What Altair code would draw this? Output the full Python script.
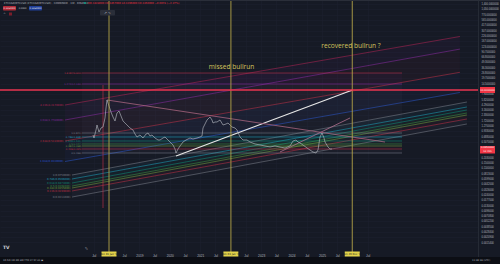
import altair as alt
import pandas as pd

BG = "#161a25"
TXT = "#b2b5be"
GRID = "#1c202d"

# ---------------- data ----------------
price_dates = [
    "2017-06-23", "2017-07-05", "2017-07-29", "2017-08-10", "2017-09-03", "2017-09-27", "2017-10-21",
    "2017-11-14", "2017-11-26", "2017-12-08", "2017-12-20",
    "2018-01-01", "2018-01-25", "2018-02-18", "2018-03-14", "2018-04-07", "2018-05-01", "2018-05-25",
    "2018-06-18", "2018-07-12", "2018-08-05", "2018-09-10", "2018-10-16", "2018-11-09", "2018-12-03",
    "2019-01-08", "2019-02-13", "2019-03-22", "2019-04-14", "2019-05-08", "2019-06-01", "2019-07-07",
    "2019-08-12", "2019-09-05", "2019-10-11", "2019-11-04", "2019-12-10",
    "2020-01-03", "2020-02-08", "2020-03-03", "2020-03-15", "2020-04-08", "2020-05-02", "2020-06-07",
    "2020-07-13", "2020-08-30", "2020-10-05", "2020-11-22", "2020-12-28",
    "2021-01-21", "2021-02-02", "2021-02-26", "2021-03-22", "2021-04-27", "2021-05-21", "2021-06-02",
    "2021-06-26", "2021-07-20", "2021-08-25", "2021-09-30", "2021-11-05", "2021-11-29",
    "2022-01-16", "2022-02-21", "2022-03-17", "2022-04-22", "2022-05-28", "2022-07-15", "2022-08-20",
    "2022-10-19", "2022-12-18",
    "2023-02-16", "2023-04-17", "2023-06-16", "2023-08-15", "2023-10-14", "2023-12-13",
    "2024-01-18", "2024-02-23", "2024-03-18", "2024-04-11", "2024-05-17", "2024-07-04", "2024-08-09",
    "2024-09-14", "2024-10-20", "2024-11-13", "2024-12-07", "2024-12-31",
    "2025-01-24", "2025-02-05", "2025-03-13", "2025-04-06", "2025-04-30",
]
price_values = [
    0.750, 0.631, 1.0, 1.334, 0.891, 1.122, 1.189, 1.995, 3.548, 5.623, 4.732,
    3.981, 2.818, 2.113, 1.679, 2.661, 2.985, 2.239, 1.679, 1.496, 1.334, 1.122, 1.0, 0.794, 0.668,
    0.750, 0.631, 0.794, 0.841, 0.708, 0.750, 0.631, 0.562, 0.562, 0.631, 0.668, 0.562,
    0.501, 0.422, 0.335, 0.266, 0.335, 0.398, 0.501, 0.562, 0.631, 0.596, 0.631, 0.668,
    0.708, 1.122, 1.413, 1.778, 2.113, 1.778, 1.496, 1.585, 1.585, 1.778, 1.334, 1.413, 1.496,
    1.189, 1.122, 1.0, 0.668, 0.562, 0.562, 0.501, 0.447, 0.422,
    0.398, 0.376, 0.398, 0.376, 0.355, 0.398,
    0.531, 0.562, 0.501, 0.473, 0.422, 0.355, 0.316, 0.282, 0.266, 0.316, 0.668, 0.841,
    0.631, 0.501, 0.376, 0.335, 0.335,
]

# sloped fib-channel levels (upper group)
upper_levels = ["4.236", "3.618", "2.618", "1.618"]
upper_colors = ["#c8255a", "#9a2eb5", "#d8344c", "#2f5fe0"]
upper_dates = ["2016-07-22", "2029-07-13"]
upper_start_price = [4.217, 1.778, 0.531, 0.163]
upper_end_price = [217.5, 105.3, 27.7, 8.66]

# sloped fib-channel levels (lower group)
lower_levels = ["1", "0.786", "0.618", "0.5", "0.382", "0.236", "0"]
lower_colors = ["#8a8d97", "#1fb5d0", "#0f9d86", "#43a047", "#7cb342", "#d8344c", "#8a8d97"]
lower_dates = ["2016-10-14", "2029-10-05"]
lower_start_price = [0.0750, 0.0596, 0.0473, 0.0398, 0.0355, 0.0299, 0.0211]
lower_end_price = [5.01, 3.758, 3.162, 2.661, 2.371, 1.884, 1.413]

# horizontal fib retracement box
box_levels = ["1.618", "1.272", "1", "0.786", "0.618", "0.5", "0.382", "0.236", "0"]
box_colors = ["#d8344c", "#9a2eb5", "#8a8d97", "#1fb5d0", "#0f9d86", "#43a047", "#7cb342", "#d8344c", "#8a8d97"]
box_dates = ["2017-02-10", "2027-08-18"]
box_prices = [26.6, 14.13, 0.841, 0.668, 0.531, 0.447, 0.398, 0.335, 0.266]

red_level = 10.0
white_dates = ["2020-03-15", "2026-01-01"]
white_prices = [0.224, 10.0]
mauve_dates = ["2017-12-08", "2027-01-26"]
mauve_prices = [5.623, 0.501]
pink_dates = ["2023-08-15", "2025-12-02"]
pink_prices = [0.282, 1.995]
red_vline_date = "2017-10-21"
red_vline_prices = [13.3, 0.0112]

cycle_dates = ["2018-01-01", "2022-01-03", "2025-12-29"]
cycle_labels = ["Mon 01 Jan '18", "Mon 03 Jan '22", "Mon 29 Dec '25"]
cycle_box_left = ["2017-10-03", "2021-10-05", "2025-09-30"]
cycle_box_right = ["2018-04-01", "2022-04-02", "2026-03-29"]

note_texts = ["missed bullrun", "recovered bullrun ?"]
note_dates = ["2022-01-10", "2025-12-14"]
note_prices = [38.2, 128.1]

last_price = 0.335
last_box = [0.398, 0.2585]
red_box = [11.885, 8.414]

price_ticks = [1400, 1050, 770, 565, 417, 307, 226, 167, 123, 90.7, 66.8, 49.3, 36.3, 26.8, 19.7,
               14.5, 7.90, 5.82, 4.29, 3.16, 2.33, 1.72, 1.27, 0.933, 0.688, 0.507,
               0.203, 0.150, 0.110, 0.0813, 0.0599, 0.0442, 0.0326, 0.0240, 0.0177, 0.0130,
               0.00960, 0.00708, 0.00522, 0.00385, 0.00284, 0.00209, 0.00154]
time_ticks = ["2017-07-01", "2018-07-01", "2019-01-01", "2019-07-01", "2020-01-01",
              "2020-07-01", "2021-01-01", "2021-07-01", "2022-07-01", "2023-01-01",
              "2023-07-01", "2024-01-01", "2024-07-01", "2025-01-01", "2025-07-01",
              "2026-07-01"]
x_domain = ["2014-06-03", "2030-02-15"]
y_domain = [0.000891, 1778]


def dt(s):
    y, m, d = (int(v) for v in s.split("-"))
    return alt.DateTime(year=y, month=m, date=d, utc=True)


x_scale = alt.Scale(type="utc", domain=[dt(s) for s in x_domain])
y_scale = alt.Scale(type="log", domain=y_domain, nice=False)
x_axis = alt.Axis(values=[dt(s) for s in time_ticks], title=None,
                  labelExpr="utcmonth(datum.value) == 6 ? 'Jul' : '' + utcyear(datum.value)",
                  labelFontSize=3.2, labelColor=TXT, labelPadding=1.5, ticks=False, domain=False,
                  grid=True, gridColor=GRID, gridWidth=0.6, labelOverlap=False, labelFlush=False)
y_axis = alt.Axis(orient="right", values=price_ticks, format=",.7f", title=None, labelFontSize=2.6,
                  labelColor=TXT, labelPadding=3, ticks=False, domain=False, grid=True,
                  gridColor=GRID, gridWidth=0.6, labelOverlap=False, labelFlush=False)


def X(f="date"):
    return alt.X(f"{f}:T", scale=x_scale, axis=x_axis)


def Y(f="price"):
    return alt.Y(f"{f}:Q", scale=y_scale, axis=y_axis)


# ---------------- tables ----------------
line_rows, band_rows, label_rows = [], [], []


def add_group(levels, colors, dates, p0, p1, gid, digits, dx):
    for i, (lv, c) in enumerate(zip(levels, colors)):
        line_rows.append({"id": f"{gid}{i}", "date": dates[0], "price": p0[i], "color": c})
        line_rows.append({"id": f"{gid}{i}", "date": dates[1], "price": p1[i], "color": c})
        label_rows.append({"date": dates[0], "price": p0[i], "color": c, "dx": dx,
                           "text": f"{lv}({p0[i]:.{digits}f})"})
        if i + 1 < len(levels):
            band_rows.append({"band": f"{gid}{i}", "date": dates[0], "top": p0[i], "bot": p0[i + 1], "color": colors[i + 1]})
            band_rows.append({"band": f"{gid}{i}", "date": dates[1], "top": p1[i], "bot": p1[i + 1], "color": colors[i + 1]})


add_group(upper_levels, upper_colors, upper_dates, upper_start_price, upper_end_price, "u", 7, -1.5)
add_group(lower_levels, lower_colors, lower_dates, lower_start_price, lower_end_price, "l", 7, -1.5)
add_group(box_levels, box_colors, box_dates, box_prices, box_prices, "b", 3, -0.5)

lines_df = pd.DataFrame(line_rows)
bands_df = pd.DataFrame(band_rows)
labels_df = pd.DataFrame(label_rows)
price_df = pd.DataFrame({"date": price_dates, "price": price_values})

bands = alt.Chart(bands_df).mark_area(opacity=0.045).encode(
    x=X(), y=Y("top"), y2="bot:Q", color=alt.Color("color:N", scale=None), detail="band:N")

levels = alt.Chart(lines_df).mark_line(strokeWidth=0.8, opacity=0.6).encode(
    x=X(), y=Y(), color=alt.Color("color:N", scale=None), detail="id:N")

label_layers = []
for off, size in [(-1.5, 2.6), (-0.5, 2.4)]:
    label_layers.append(
        alt.Chart(labels_df).transform_filter(f"datum.dx == {off}").mark_text(
            align="right", dx=off, fontSize=size, opacity=0.85, font="DejaVu Sans").encode(
            x=X(), y=Y(), text="text:N", color=alt.Color("color:N", scale=None)))

extra_df = pd.DataFrame({
    "id": ["w", "w", "m", "m", "p", "p", "r", "r"],
    "date": white_dates + mauve_dates + pink_dates + [red_vline_date, red_vline_date],
    "price": white_prices + mauve_prices + pink_prices + red_vline_prices,
    "color": ["#e6e6e6"] * 2 + ["#a8657f"] * 2 + ["#b06e8e"] * 2 + ["#c9304a"] * 2,
    "w": [1.2] * 2 + [0.8] * 2 + [0.8] * 2 + [0.6] * 2,
})
extras = alt.Chart(extra_df).mark_line().encode(
    x=X(), y=Y(), color=alt.Color("color:N", scale=None), detail="id:N",
    strokeWidth=alt.StrokeWidth("w:Q", scale=None))

price_line = alt.Chart(price_df).mark_line(color="#a9adb6", strokeWidth=0.7).encode(x=X(), y=Y())

cyc_df = pd.DataFrame({"date": cycle_dates, "left": cycle_box_left, "right": cycle_box_right, "label": cycle_labels})
cycles = alt.Chart(cyc_df).mark_rule(color="#b3a447", strokeWidth=0.9).encode(x=X())
cyc_box = alt.Chart(cyc_df).mark_rect(color="#e3d34a").encode(
    x=X("left"), x2="right:T", y=alt.value(251.5), y2=alt.value(256.5))
cyc_txt = alt.Chart(cyc_df).mark_text(fontSize=2.6, color="#131722", font="DejaVu Sans").encode(
    x=X(), y=alt.value(254.2), text="label:N")

red_df = pd.DataFrame({"price": [red_level]})
red_line = alt.Chart(red_df).mark_rule(color="#ea3550", strokeWidth=1.5).encode(y=Y())

notes_df = pd.DataFrame({"date": note_dates, "price": note_prices, "text": note_texts})
notes = alt.Chart(notes_df).mark_text(fontSize=6.6, color="#d3c35c", font="Open Sans").encode(
    x=X(), y=Y(), text="text:N")

# price-scale badges
badge_df = pd.DataFrame({"top": [red_box[0], last_box[0]], "bot": [red_box[1], last_box[1]]})
badges = alt.Chart(badge_df).mark_rect(color="#f23645").encode(
    x=alt.value(480), x2=alt.value(495), y=Y("top"), y2="bot:Q")
badge_txt_df = pd.DataFrame({"price": [red_level, 0.372, 0.292],
                             "text": [f"{red_level:.7f}", f"{last_price:.7f}", "1d 20h"]})
badge_txt = alt.Chart(badge_txt_df).mark_text(fontSize=2.4, color="white", align="center", font="DejaVu Sans").encode(
    x=alt.value(487.5), y=Y(), text="text:N")

# ---------------- interface chrome ----------------
one = pd.DataFrame({"k": [0]})
chrome = [
    alt.Chart(one).mark_rule(color="#2a2e39", strokeWidth=1).encode(
        x=alt.value(0), x2=alt.value(500), y=alt.value(0.5)),
    alt.Chart(one).mark_rule(color="#2a2e39", strokeWidth=0.8).encode(
        x=alt.value(478.5), y=alt.value(0), y2=alt.value(257)),
    alt.Chart(one).mark_rect(color="#0c0e14").encode(
        x=alt.value(0), x2=alt.value(500), y=alt.value(257), y2=alt.value(264)),
    alt.Chart(one).mark_text(align="left", fontSize=2.6, color=TXT, font="DejaVu Sans").encode(
        x=alt.value(4), y=alt.value(3),
        text=alt.value("ETHUSD/BTCUSD (ETHUSD/BTCUSD) · COMBINED · 1W · BINANCE")),
    alt.Chart(one).mark_circle(size=4, color="#089981", opacity=1).encode(x=alt.value(85), y=alt.value(3)),
    alt.Chart(one).mark_text(align="left", fontSize=2.6, color="#f23645", font="DejaVu Sans").encode(
        x=alt.value(88), y=alt.value(3),
        text=alt.value("O0.3428000 H0.3457000 L0.3296000 C0.3350000 −0.0078 (−2.27%)")),
    alt.Chart(one).mark_rect(color="#b42a37", cornerRadius=1).encode(
        x=alt.value(3), x2=alt.value(16), y=alt.value(6), y2=alt.value(10.5)),
    alt.Chart(one).mark_rect(color="#1f3f9a", cornerRadius=1).encode(
        x=alt.value(29), x2=alt.value(42), y=alt.value(6), y2=alt.value(10.5)),
    alt.Chart(one).mark_text(fontSize=2.2, color="#e8e8e8", font="DejaVu Sans").encode(
        x=alt.value(9.5), y=alt.value(8.2), text=alt.value("0.3350000")),
    alt.Chart(one).mark_text(fontSize=2.2, color="#d1d4dc", font="DejaVu Sans").encode(
        x=alt.value(22.5), y=alt.value(8.2), text=alt.value("0.0000")),
    alt.Chart(one).mark_text(fontSize=2.2, color="#e8e8e8", font="DejaVu Sans").encode(
        x=alt.value(35.5), y=alt.value(8.2), text=alt.value("0.3350000")),
    alt.Chart(one).mark_text(fontSize=3, color=TXT, font="DejaVu Sans").encode(
        x=alt.value(4.5), y=alt.value(14), text=alt.value("^")),
    alt.Chart(one).mark_rect(color="#7a1e2a").encode(
        x=alt.value(9), x2=alt.value(12), y=alt.value(12.5), y2=alt.value(15.5)),
    alt.Chart(one).mark_rect(color="#2a2e39", cornerRadius=1).encode(
        x=alt.value(100), x2=alt.value(115), y=alt.value(10), y2=alt.value(15.5)),
    alt.Chart(one).mark_text(fontSize=3.5, color=TXT, font="DejaVu Sans").encode(
        x=alt.value(107.5), y=alt.value(12.8), text=alt.value("↗ ∿")),
    alt.Chart(one).mark_text(align="left", fontSize=4.5, fontWeight="bold", color="#d1d4dc", font="DejaVu Sans").encode(
        x=alt.value(3), y=alt.value(248), text=alt.value("TV")),
    alt.Chart(one).mark_text(fontSize=4, color=TXT, font="DejaVu Sans").encode(
        x=alt.value(86.5), y=alt.value(249), text=alt.value("✎")),
    alt.Chart(one).mark_text(align="left", fontSize=2.4, color=TXT, font="DejaVu Sans").encode(
        x=alt.value(3), y=alt.value(260.5), text=alt.value("1D  5D  1M  3M  6M  YTD  1Y  5Y  All   ▣")),
    alt.Chart(one).mark_text(align="left", fontSize=2.4, color=TXT, font="DejaVu Sans").encode(
        x=alt.value(472), y=alt.value(260.5), text=alt.value("11:08:36 (UTC)")),
]

chart = alt.layer(
    bands, levels, extras, price_line, cycles, red_line, *label_layers, notes,
    badges, badge_txt, cyc_box, cyc_txt, *chrome
).properties(
    width=478, height=252, background=BG,
    padding={"left": 0, "top": 0, "right": 22, "bottom": 12},
    autosize=alt.AutoSizeParams(type="none"),
).configure_view(stroke=None, fill=BG)

chart.save("out.html", embed_options={"renderer": "svg", "actions": False})
